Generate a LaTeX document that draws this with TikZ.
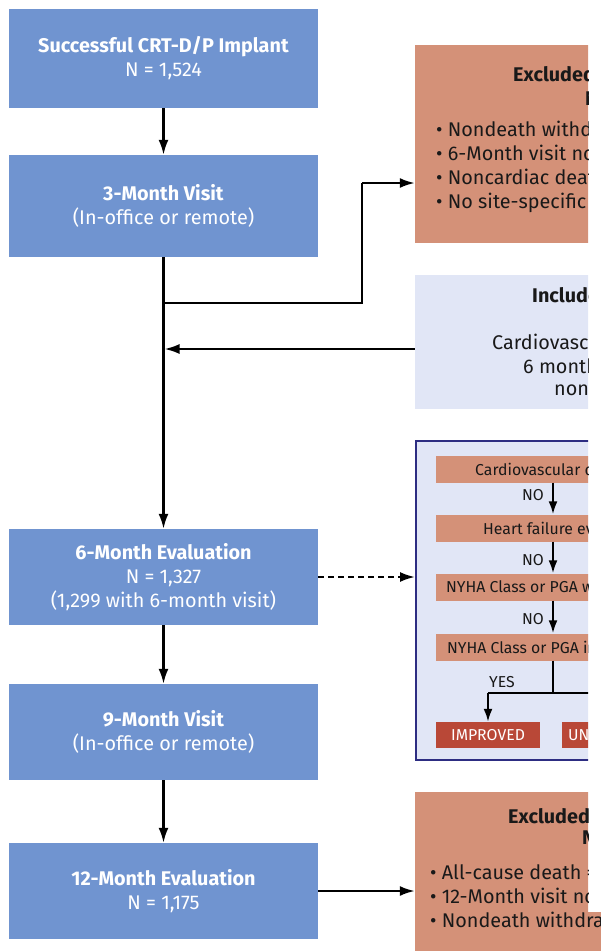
\documentclass[tikz,border=0pt]{standalone}
\usepackage{fontspec}
\setmainfont{Fira Sans}
\usetikzlibrary{arrows.meta}

\definecolor{stageblue}{RGB}{112,148,208}
\definecolor{salmon}{RGB}{212,145,120}
\definecolor{lavender}{RGB}{225,230,246}
\definecolor{navy}{RGB}{45,45,130}
\definecolor{outcomered}{RGB}{185,72,55}
\definecolor{ink}{RGB}{25,25,25}

\begin{document}
\begin{tikzpicture}[x=1pt,y=-1pt,
  stage/.style={fill=stageblue, text=white, minimum width=309pt, inner sep=0pt,
    align=center, font=\fontsize{19.8}{24}\selectfont},
  panel/.style={inner sep=0pt, minimum width=285pt},
  txt/.style={anchor=west, inner sep=0pt, text=ink, font=\fontsize{19.8}{24}\selectfont, align=left},
  boldtxt/.style={txt, font=\fontsize{19.8}{24}\selectfont\bfseries},
  smalltxt/.style={anchor=west, inner sep=0pt, text=ink, font=\fontsize{15.8}{19}\selectfont},
  qbox/.style={fill=salmon, inner sep=0pt, minimum width=264pt, minimum height=27pt},
  tag/.style={inner sep=0pt, text=ink, font=\fontsize{15.8}{19}\selectfont},
  link/.style={draw=black, line width=2.2pt},
  conn/.style={link, -{Latex[length=15pt,width=10pt]}},
  sconn/.style={link, -{Latex[length=13pt,width=9pt]}},
  dashlink/.style={dash pattern=on 6pt off 4pt}]
\useasboundingbox (0,0) rectangle (601,951);

% ---- study stages (left column)
\node[stage, minimum height=99pt]  (impl) at (163.5,58.5) {\textbf{Successful CRT-D/P Implant}\\N = 1,524};
\node[stage, minimum height=102pt] (v3)   at (163.5,206)  {\textbf{3-Month Visit}\\(In-office or remote)};
\node[stage, minimum height=96pt]  (e6)   at (163.5,577)  {\textbf{6-Month Evaluation}\\N = 1,327\\(1,299 with 6-month visit)};
\node[stage, minimum height=96pt]  (v9)   at (163.5,732)  {\textbf{9-Month Visit}\\(In-office or remote)};
\node[stage, minimum height=96pt]  (e12)  at (163.5,891)  {\textbf{12-Month Evaluation}\\N = 1,175};

% ---- side panels, cut at the right margin
\begin{scope}
\clip (0,0) rectangle (588,912) (0,912) rectangle (601,951);

\node[panel, fill=salmon, minimum height=198pt] (excl1) at (557.5,144) {};
\node[boldtxt] (excl1t) at (513,74) {Excluded};
\node[boldtxt] (excl1n) at (585,99) {N};
\node[txt] (excl1l) at (436,167) {• Nondeath withd\\• 6-Month visit no\\• Noncardiac deat\\• No site-specific};

\node[panel, fill=lavender, minimum height=134pt] (incl) at (557.5,342) {};
\node[boldtxt] (inclt) at (532,295) {Include};
\node[txt] (incll1) at (492,342) {Cardiovascu};
\node[txt] (incll2) at (523,366) {6 month};
\node[txt] (incll3) at (554,390) {non};

\node[panel, fill=lavender, draw=navy, line width=2pt, minimum height=319pt] (evalbox) at (558.5,600.5) {};
\node[qbox] (q1) at (568,469) {};
\node[qbox] (q2) at (568,528) {};
\node[qbox] (q3) at (568,587) {};
\node[qbox] (q4) at (568,647) {};
\node[smalltxt] (q1t) at (475,469) {Cardiovascular de};
\node[smalltxt] (q2t) at (483,528) {Heart failure eve};
\node[smalltxt] (q3t) at (446,587) {NYHA Class or PGA wo};
\node[smalltxt] (q4t) at (447,647) {NYHA Class or PGA im};
\coordinate (ax) at (553,0);
\coordinate (split) at (553,693);
\node[tag] (no1) at (533,495) {NO};
\node[tag] (no2) at (533,560) {NO};
\node[tag] (no3) at (533,619) {NO};
\node[tag] (yes) at (502,682) {YES};
\node[fill=outcomered, text=white, inner sep=0pt, minimum width=104pt, minimum height=26pt,
      font=\fontsize{15.8}{19}\selectfont] (imp) at (488,735) {IMPROVED};
\node[fill=outcomered, inner sep=0pt, minimum width=138pt, minimum height=26pt] (unc) at (631,735) {};
\node[smalltxt, text=white] (unct) at (568,735) {UN};
\draw[sconn] (q1.south -| ax) -- (q2.north -| ax);
\draw[sconn] (q2.south -| ax) -- (q3.north -| ax);
\draw[sconn] (q3.south -| ax) -- (q4.north -| ax);
\draw[link] (q4.south -| ax) -- (split);
\draw[link] (imp.north |- split) -- (split -| unc.east);
\draw[sconn] (imp.north |- split) -- (imp.north);

\node[panel, fill=salmon, minimum height=170pt] (excl2) at (557.5,877) {};
\node[boldtxt] (excl2t) at (508,816) {Excluded};
\node[boldtxt] (excl2n) at (582,838) {N};
\node[txt] (excl2l) at (430,896) {• All-cause death =\\• 12-Month visit no\\• Nondeath withdraw};
\end{scope}

% ---- connectors
\coordinate (fork) at (163.5,303);
\coordinate (bend) at (362,183);
\coordinate (back) at (163.5,349);
\draw[conn] (impl.south) -- (v3.north);
\draw[conn] (v3.south) -- (e6.north);
\draw[link] (fork) -| (bend);
\draw[conn] (bend) -- (bend -| excl1.west);
\draw[conn] (back -| incl.west) -- ([xshift=1pt]back);
\draw[conn, dashlink] (e6.east) -- (e6.east -| evalbox.west);
\draw[conn] (e6.south) -- (v9.north);
\draw[conn] (v9.south) -- (e12.north);
\draw[conn] (e12.east) -- (e12.east -| excl2.west);
\end{tikzpicture}
\end{document}
